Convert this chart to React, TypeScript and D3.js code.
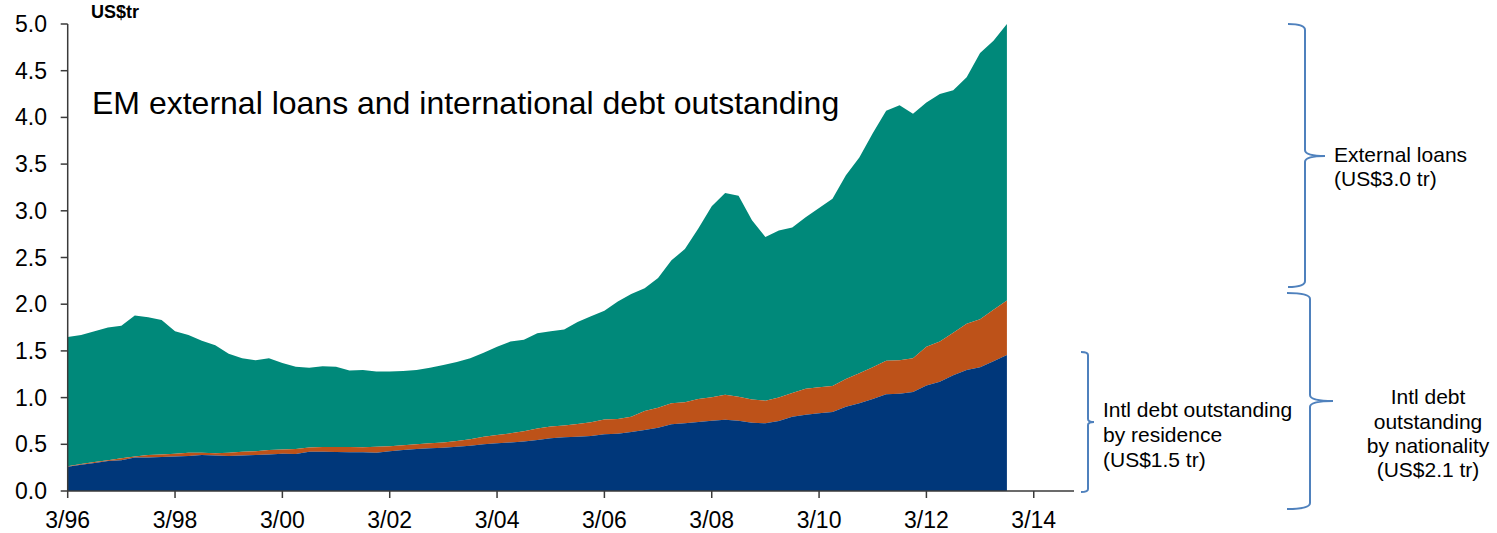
import React from "react";
import * as d3 from "d3";

// Quarterly levels, 3/96 .. 9/13 (US$ tr)
const residence = [
  0.26, 0.28, 0.30, 0.32, 0.33, 0.36, 0.36, 0.365, 0.37, 0.375,
  0.385, 0.38, 0.375, 0.38, 0.385, 0.39, 0.40, 0.395, 0.42, 0.42,
  0.418, 0.415, 0.414, 0.41, 0.425, 0.44, 0.45, 0.457, 0.464, 0.474,
  0.485, 0.50, 0.51, 0.52, 0.53, 0.546, 0.564, 0.575, 0.58, 0.59,
  0.607, 0.614, 0.632, 0.653, 0.678, 0.714, 0.725, 0.739, 0.753, 0.764,
  0.753, 0.731, 0.725, 0.75, 0.796, 0.817, 0.832, 0.846, 0.903, 0.939,
  0.985, 1.035, 1.042, 1.06, 1.13, 1.17, 1.24, 1.295, 1.324, 1.39,
  1.456,
];
const nationality = [
  0.265, 0.29, 0.31, 0.33, 0.35, 0.37, 0.385, 0.39, 0.40, 0.41,
  0.41, 0.405, 0.41, 0.42, 0.425, 0.44, 0.445, 0.45, 0.465, 0.47,
  0.47, 0.47, 0.468, 0.474, 0.48, 0.49, 0.50, 0.51, 0.52, 0.535,
  0.553, 0.58, 0.60, 0.617, 0.64, 0.67, 0.69, 0.70, 0.717, 0.735,
  0.765, 0.772, 0.796, 0.857, 0.89, 0.939, 0.95, 0.985, 1.003, 1.03,
  1.01, 0.98, 0.967, 1.0, 1.05, 1.095, 1.11, 1.124, 1.20, 1.26,
  1.324, 1.395, 1.40, 1.42, 1.545, 1.60, 1.695, 1.79, 1.84, 1.94,
  2.04,
];
const total = [
  1.65, 1.67, 1.71, 1.75, 1.77, 1.88, 1.86, 1.83, 1.71, 1.67,
  1.61, 1.56, 1.47, 1.42, 1.40, 1.42, 1.37, 1.33, 1.32, 1.335,
  1.33, 1.29, 1.295, 1.28, 1.28, 1.285, 1.295, 1.32, 1.35, 1.38,
  1.42, 1.48, 1.545, 1.60, 1.62, 1.69, 1.71, 1.73, 1.81, 1.87,
  1.93, 2.03, 2.11, 2.17, 2.28, 2.47, 2.59, 2.81, 3.05, 3.19,
  3.16, 2.90, 2.72, 2.79, 2.82, 2.93, 3.03, 3.13, 3.38, 3.57,
  3.83, 4.07, 4.13, 4.04, 4.16, 4.25, 4.29, 4.43, 4.69, 4.82,
  5.0,
];
const xTickLabels = ["3/96", "3/98", "3/00", "3/02", "3/04", "3/06", "3/08", "3/10", "3/12", "3/14"];
const yTicks = [0, 0.5, 1.0, 1.5, 2.0, 2.5, 3.0, 3.5, 4.0, 4.5, 5.0];

const FONT = "'Liberation Sans', Arial, Helvetica, sans-serif";
const TEAL = "#00897A";
const ORANGE = "#BD5219";
const NAVY = "#00377A";
const BRACE = "#4F81BD";

function bracePath(x0: number, xs: number, xt: number, yTop: number, yMid: number, yBot: number, r: number) {
  return `M${x0},${yTop} Q${xs},${yTop} ${xs},${yTop + r} L${xs},${yMid - r} Q${xs},${yMid} ${xt},${yMid} Q${xs},${yMid} ${xs},${yMid + r} L${xs},${yBot - r} Q${xs},${yBot} ${x0},${yBot}`;
}

export default function App() {
  const x = d3.scaleLinear().domain([0, 75]).range([67.7, 1074]);
  const y = d3.scaleLinear().domain([0, 5]).range([491, 24]);
  const idx = d3.range(total.length);

  const band = (lo: (i: number) => number, hi: (i: number) => number) =>
    d3
      .area<number>()
      .x((i) => x(i))
      .y0((i) => y(lo(i)))
      .y1((i) => y(hi(i)))(idx) || "";

  const tealPath = band((i) => nationality[i], (i) => total[i]);
  const orangePath = band((i) => residence[i], (i) => nationality[i]);
  const navyPath = band(() => 0, (i) => residence[i]);

  const axisColor = "#3a3a3a";

  return (
    <svg
      width={1497}
      height={533}
      style={{ position: "absolute", left: 0, top: 0, background: "#fff" }}
      fontFamily={FONT}
    >
      <path d={tealPath} fill={TEAL} />
      <path d={orangePath} fill={ORANGE} />
      <path d={navyPath} fill={NAVY} />

      {/* y axis */}
      <line x1={x(0)} x2={x(0)} y1={y(5)} y2={y(0)} stroke={axisColor} strokeWidth={1.5} />
      {yTicks.map((t) => (
        <g key={t}>
          <line x1={x(0) - 7} x2={x(0)} y1={y(t)} y2={y(t)} stroke={axisColor} strokeWidth={1.5} />
          <text x={47} y={y(t)} dy="0.35em" textAnchor="end" fontSize={23} fill="#000">
            {t.toFixed(1)}
          </text>
        </g>
      ))}

      {/* x axis */}
      <line x1={x(0)} x2={x(75)} y1={y(0)} y2={y(0)} stroke={axisColor} strokeWidth={1.5} />
      {xTickLabels.map((lab, k) => (
        <g key={lab}>
          <line x1={x(k * 8)} x2={x(k * 8)} y1={y(0)} y2={y(0) + 7} stroke={axisColor} strokeWidth={1.5} />
          <text x={x(k * 8)} y={528} textAnchor="middle" fontSize={23} fill="#000">
            {lab}
          </text>
        </g>
      ))}

      <text x={91} y={18} fontSize={18} fontWeight="bold" fill="#000">
        US$tr
      </text>
      <text x={92} y={114} fontSize={32} fill="#000">
        EM external loans and international debt outstanding
      </text>

      {/* braces */}
      <path d={bracePath(1288, 1305, 1325, 24, 156, 287, 6)} fill="none" stroke={BRACE} strokeWidth={2} />
      <path d={bracePath(1287, 1310, 1333, 293, 401, 509, 6)} fill="none" stroke={BRACE} strokeWidth={2} />
      <path d={bracePath(1081, 1088, 1094, 352, 422, 492, 3)} fill="none" stroke={BRACE} strokeWidth={2} />

      <g fontSize={21} fill="#000">
        <text x={1334} y={162}>External loans</text>
        <text x={1334} y={186}>(US$3.0 tr)</text>

        <text x={1103} y={417}>Intl debt outstanding</text>
        <text x={1103} y={442}>by residence</text>
        <text x={1103} y={467}>(US$1.5 tr)</text>

        <g textAnchor="middle">
          <text x={1428} y={404}>Intl debt</text>
          <text x={1428} y={429}>outstanding</text>
          <text x={1428} y={453}>by nationality</text>
          <text x={1428} y={477}>(US$2.1 tr)</text>
        </g>
      </g>
    </svg>
  );
}
